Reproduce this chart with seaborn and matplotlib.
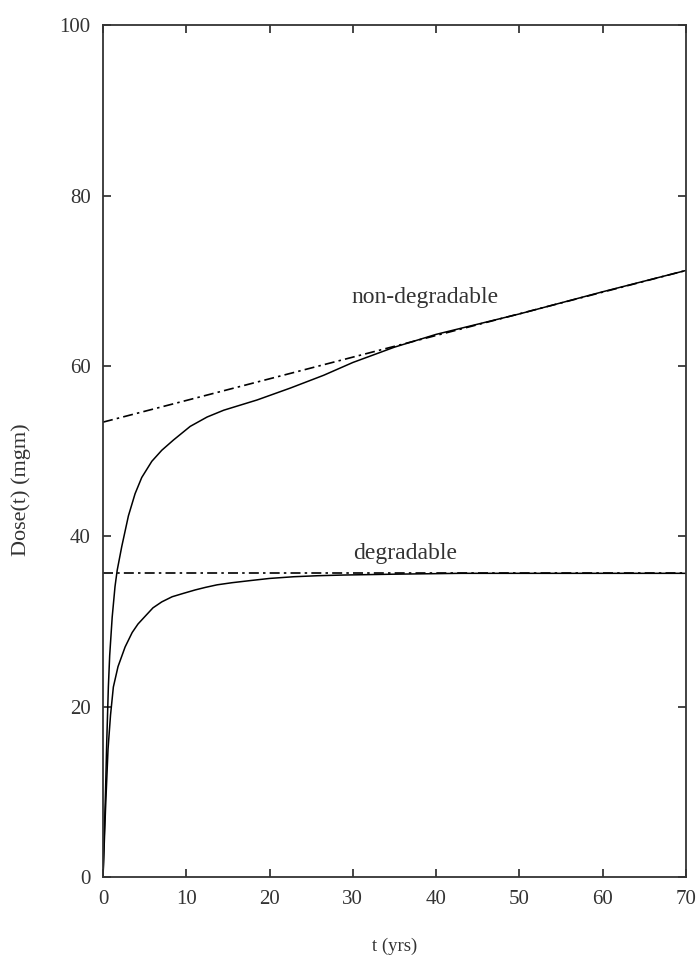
# Dose(t) for degradable and non-degradable material
import pandas as pd
import seaborn as sns
import matplotlib.pyplot as plt

# values
t_nondeg = [0, 0.15, 0.3, 0.45, 0.64, 0.8, 1.1, 1.44, 1.7, 2.25, 3.05, 3.85, 4.65, 5.86, 7.06,
            8.46, 10.47, 12.5, 14.5, 18.5, 22.5, 26.5, 30, 35, 40, 45, 50, 60, 70]
dose_nondeg = [0, 5, 10, 16, 22.3, 26, 30.5, 34.1, 36, 38.8, 42.4, 45.0, 46.9, 48.8, 50.1,
               51.3, 52.9, 54.0, 54.8, 56.0, 57.4, 58.9, 60.4, 62.2, 63.7, 64.9, 66.1, 68.7, 71.2]

t_deg = [0, 0.15, 0.3, 0.6, 0.9, 1.24, 1.8, 2.65, 3.5, 4.2, 5.05, 6.0, 7.06, 8.3, 9.66, 11.07,
         12.3, 13.7, 15.5, 17.7, 20, 22.9, 25.8, 28.9, 35, 43, 70]
dose_deg = [0, 4, 8, 15, 19, 22.3, 24.7, 27, 28.7, 29.7, 30.6, 31.6, 32.3, 32.9, 33.3, 33.7,
            34.0, 34.3, 34.55, 34.8, 35.05, 35.25, 35.37, 35.45, 35.55, 35.65, 35.65]

t_asym = [0, 70]
asym_nondeg = [53.4, 71.2]
asym_deg = [35.65, 35.65]

df_nd = pd.DataFrame({'t': t_nondeg, 'dose': dose_nondeg})
df_d = pd.DataFrame({'t': t_deg, 'dose': dose_deg})
df_a1 = pd.DataFrame({'t': t_asym, 'dose': asym_nondeg})
df_a2 = pd.DataFrame({'t': t_asym, 'dose': asym_deg})

sns.set_style("ticks")
plt.rcParams['font.family'] = ['Liberation Serif', 'DejaVu Serif']

fig = plt.figure(figsize=(6.98, 9.68), dpi=100)
ax = fig.add_axes([0.1476, 0.094, 0.835, 0.88])

dashdot = (6, 2.5, 1.5, 2.5)
sns.lineplot(data=df_a1, x='t', y='dose', ax=ax, color='black', lw=1.2)
ax.lines[-1].set_dashes(dashdot)
sns.lineplot(data=df_a2, x='t', y='dose', ax=ax, color='black', lw=1.2)
ax.lines[-1].set_dashes(dashdot)
sns.lineplot(data=df_nd, x='t', y='dose', ax=ax, color='black', lw=1.1)
sns.lineplot(data=df_d, x='t', y='dose', ax=ax, color='black', lw=1.1)

ax.text(38.7, 68, 'non-degradable', fontsize=17, color='#333333', ha='center', va='center')
ax.text(36.3, 38.0, 'degradable', fontsize=17, color='#333333', ha='center', va='center')

ax.set_xlim(0, 70)
ax.set_ylim(0, 100)
ax.set_xticks(range(0, 71, 10))
ax.set_yticks(range(0, 101, 20))
ax.tick_params(direction='in', length=6, width=1.2, top=True, right=True,
               labelsize=15, labelcolor='#333333', pad=9)
for s in ax.spines.values():
    s.set_linewidth(1.3)
    s.set_color('#333333')

ax.set_xlabel('t (yrs)', fontsize=13.5, color='#333333', labelpad=21)
ax.set_ylabel('Dose(t) (mgm)', fontsize=16, color='#333333')
ax.yaxis.set_label_coords(-0.124, 0.455)

fig.savefig('out.png', dpi=100)
